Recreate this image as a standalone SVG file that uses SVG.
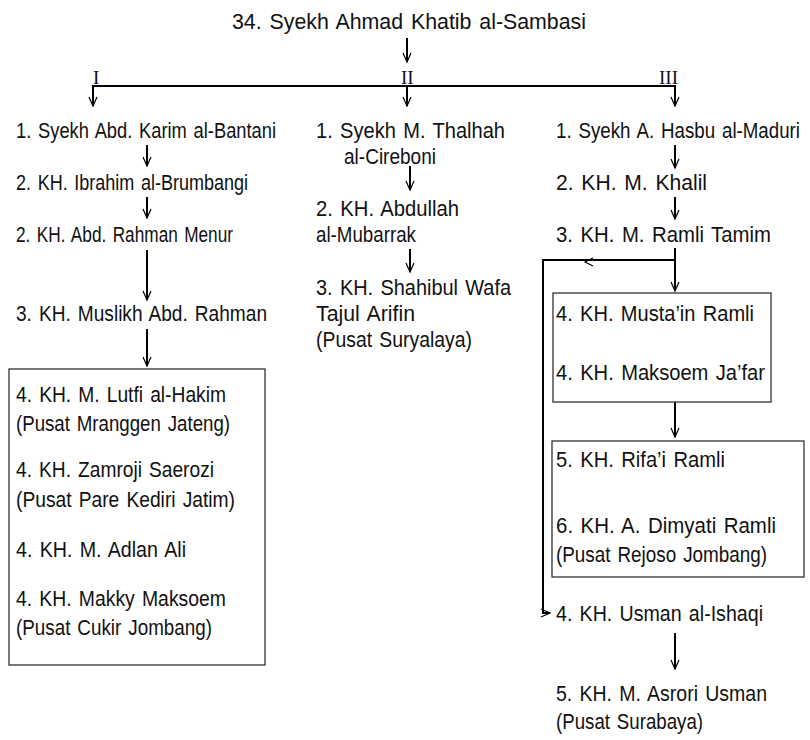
<svg xmlns="http://www.w3.org/2000/svg" width="810" height="740" viewBox="0 0 810 740" xml:space="preserve">
<style>
.t{font-family:"Liberation Sans",Arial,sans-serif;font-size:22px;fill:#111;word-spacing:2px}
.r{font-family:"Liberation Serif","Times New Roman",serif;font-size:19px;fill:#111}
.c{fill:none;stroke:#000;stroke-width:2}
.b{fill:none;stroke:#333;stroke-width:1.3}
</style>
<defs>
<marker id="ah" markerUnits="userSpaceOnUse" markerWidth="12" markerHeight="12" viewBox="-10 -6 12 12" refX="0" refY="0" orient="auto">
<path d="M-9,-4 L0,0 L-9,4" fill="none" stroke="#000" stroke-width="1.2"/>
</marker>
</defs>
<rect width="810" height="740" fill="#fff"/>
<g id="connectors">
<path class="c" d="M407,38 V62" marker-end="url(#ah)"/>
<path class="c" d="M93,106 V86 H675 V106" marker-end="url(#ah)"/>
<path class="c" d="M93,86 V106" marker-end="url(#ah)"/>
<path class="c" d="M407,86 V106" marker-end="url(#ah)"/>
<path class="c" d="M147,145 V166" marker-end="url(#ah)"/>
<path class="c" d="M147,197 V218" marker-end="url(#ah)"/>
<path class="c" d="M147,250 V300" marker-end="url(#ah)"/>
<path class="c" d="M147,329 V366" marker-end="url(#ah)"/>
<path class="c" d="M410,166 V190" marker-end="url(#ah)"/>
<path class="c" d="M410,249 V272" marker-end="url(#ah)"/>
<path class="c" d="M675,145 V168" marker-end="url(#ah)"/>
<path class="c" d="M675,197 V219" marker-end="url(#ah)"/>
<path class="c" d="M675,248 V291" marker-end="url(#ah)"/>
<path class="c" d="M675,260 H543 V613 H550" marker-end="url(#ah)"/>
<path d="M593,258 L585,262 L593,266" fill="none" stroke="#000" stroke-width="1.2"/>
<path class="c" d="M675,402 V437" marker-end="url(#ah)"/>
<path class="c" d="M675,633 V669" marker-end="url(#ah)"/>
</g>
<g id="title"><text class="t" x="232" y="29" font-size="23" textLength="354" lengthAdjust="spacingAndGlyphs">34.  Syekh Ahmad Khatib al-Sambasi</text></g>
<g id="labels">
<text class="r" x="93" y="84">I</text>
<text class="r" x="401" y="84">II</text>
<text class="r" x="659" y="84">III</text>
</g>
<g id="col1-1"><text class="t" x="16" y="138" textLength="260" lengthAdjust="spacingAndGlyphs">1. Syekh Abd. Karim al-Bantani</text></g>
<g id="col1-2"><text class="t" x="16" y="190" textLength="232" lengthAdjust="spacingAndGlyphs">2. KH. Ibrahim al-Brumbangi</text></g>
<g id="col1-3"><text class="t" x="16" y="242" textLength="217" lengthAdjust="spacingAndGlyphs">2. KH. Abd. Rahman Menur</text></g>
<g id="col1-4"><text class="t" x="16" y="321" textLength="251" lengthAdjust="spacingAndGlyphs">3. KH. Muslikh Abd. Rahman</text></g>
<g id="col1-box">
<rect class="b" x="9" y="369" width="256" height="296"/>
<text class="t" x="16" y="402" textLength="210" lengthAdjust="spacingAndGlyphs">4. KH. M. Lutfi al-Hakim</text>
<text class="t" x="16" y="431" textLength="214" lengthAdjust="spacingAndGlyphs">(Pusat Mranggen Jateng)</text>
<text class="t" x="16" y="477" textLength="198" lengthAdjust="spacingAndGlyphs">4. KH. Zamroji Saerozi</text>
<text class="t" x="16" y="507" textLength="219" lengthAdjust="spacingAndGlyphs">(Pusat Pare Kediri Jatim)</text>
<text class="t" x="16" y="557" textLength="170" lengthAdjust="spacingAndGlyphs">4. KH. M. Adlan Ali</text>
<text class="t" x="16" y="606" textLength="210" lengthAdjust="spacingAndGlyphs">4. KH. Makky Maksoem</text>
<text class="t" x="16" y="635" textLength="196" lengthAdjust="spacingAndGlyphs">(Pusat Cukir Jombang)</text>
</g>
<g id="col2-1"><text class="t" x="316" y="138" textLength="189" lengthAdjust="spacingAndGlyphs">1.  Syekh M. Thalhah</text><text class="t" x="344" y="164" textLength="92" lengthAdjust="spacingAndGlyphs">al-Cireboni</text></g>
<g id="col2-2"><text class="t" x="316" y="216" textLength="143" lengthAdjust="spacingAndGlyphs">2.  KH. Abdullah</text><text class="t" x="316" y="242" textLength="100" lengthAdjust="spacingAndGlyphs">al-Mubarrak</text></g>
<g id="col2-3"><text class="t" x="316" y="295" textLength="195" lengthAdjust="spacingAndGlyphs">3.  KH. Shahibul Wafa</text><text class="t" x="316" y="321" textLength="99" lengthAdjust="spacingAndGlyphs">Tajul Arifin</text><text class="t" x="316" y="347" textLength="156" lengthAdjust="spacingAndGlyphs">(Pusat Suryalaya)</text></g>
<g id="col3-1"><text class="t" x="556" y="138" textLength="244" lengthAdjust="spacingAndGlyphs">1.  Syekh A. Hasbu al-Maduri</text></g>
<g id="col3-2"><text class="t" x="556" y="190" textLength="151" lengthAdjust="spacingAndGlyphs">2.  KH. M. Khalil</text></g>
<g id="col3-3"><text class="t" x="556" y="242" textLength="215" lengthAdjust="spacingAndGlyphs">3.  KH. M. Ramli Tamim</text></g>
<g id="col3-box1">
<rect class="b" x="553" y="293" width="218" height="109"/>
<text class="t" x="556" y="321" textLength="198" lengthAdjust="spacingAndGlyphs">4.  KH. Musta’in Ramli</text>
<text class="t" x="556" y="380" textLength="209" lengthAdjust="spacingAndGlyphs">4.  KH. Maksoem Ja’far</text>
</g>
<g id="col3-box2">
<rect class="b" x="552" y="441" width="252" height="136"/>
<text class="t" x="556" y="467" textLength="169" lengthAdjust="spacingAndGlyphs">5.  KH. Rifa’i Ramli</text>
<text class="t" x="556" y="533" textLength="220" lengthAdjust="spacingAndGlyphs">6.  KH. A. Dimyati Ramli</text>
<text class="t" x="556" y="562" textLength="211" lengthAdjust="spacingAndGlyphs">(Pusat Rejoso Jombang)</text>
</g>
<g id="col3-4"><text class="t" x="556" y="621" textLength="207" lengthAdjust="spacingAndGlyphs">4.  KH. Usman al-Ishaqi</text></g>
<g id="col3-5"><text class="t" x="556" y="701" textLength="211" lengthAdjust="spacingAndGlyphs">5.  KH. M. Asrori Usman</text><text class="t" x="556" y="729" textLength="147" lengthAdjust="spacingAndGlyphs">(Pusat Surabaya)</text></g>
</svg>
